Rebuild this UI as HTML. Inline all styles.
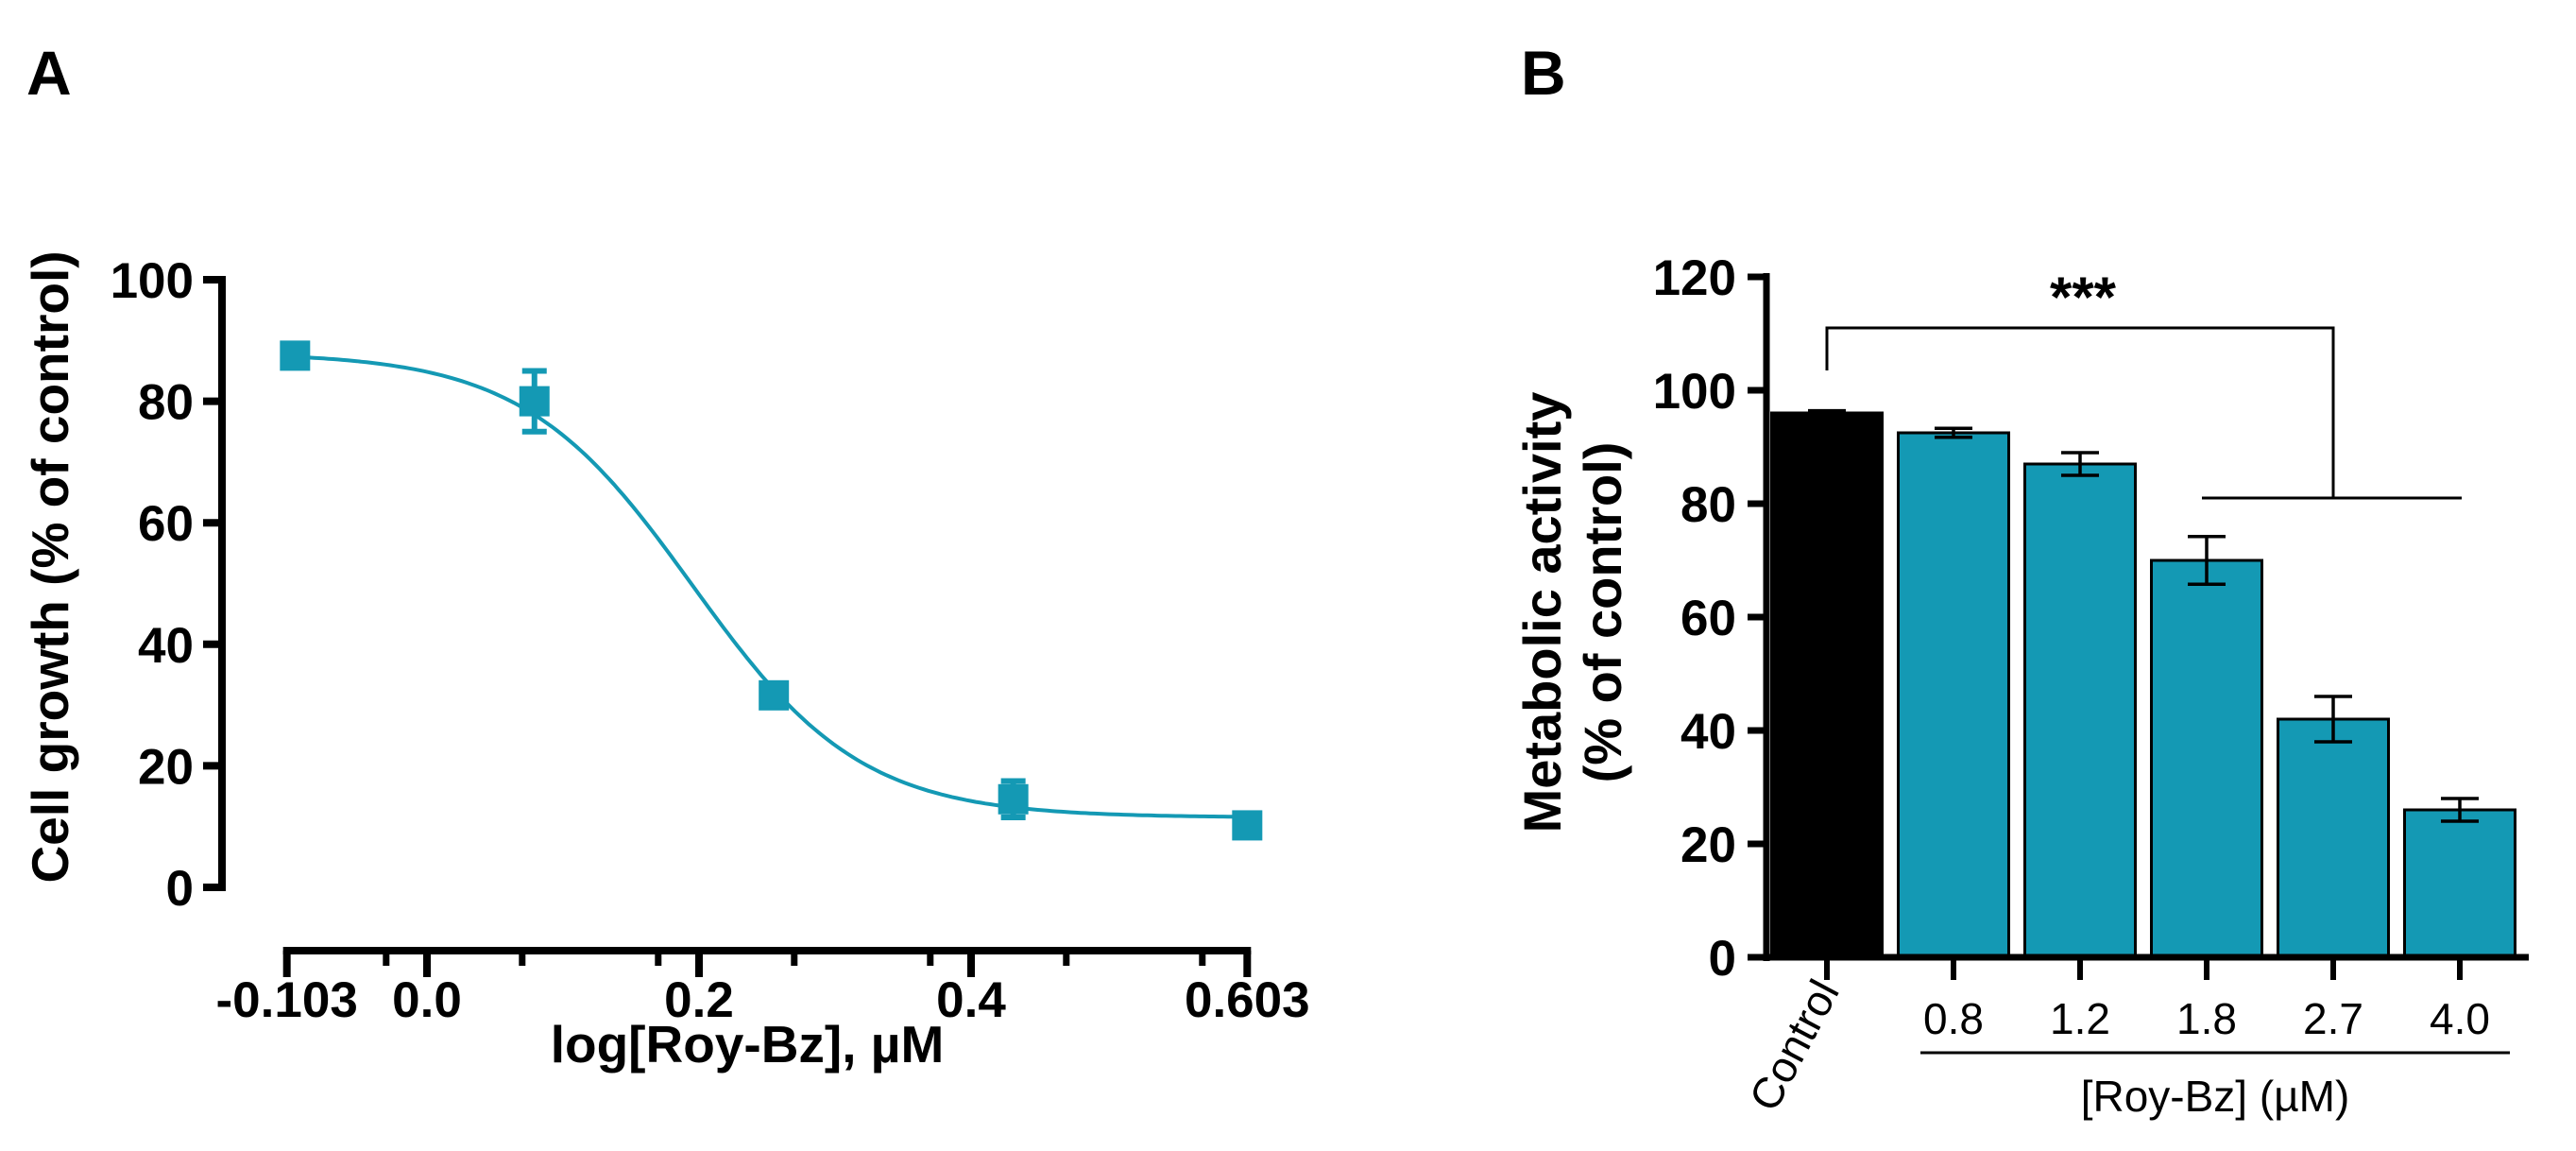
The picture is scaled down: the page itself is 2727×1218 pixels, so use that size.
<!DOCTYPE html>
<html><head><meta charset="utf-8"><style>
html,body{margin:0;padding:0;background:#fff;}
svg{display:block;font-family:"Liberation Sans",Arial,sans-serif;}
</style></head><body>
<svg id="chart" width="2727" height="1218" viewBox="0 0 2727 1218">
<text x="28" y="100" font-size="66" font-weight="bold">A</text>
<text x="1610" y="100" font-size="66" font-weight="bold">B</text>
<g id="panelA"></g>
<g id="panelB"></g>
</svg>
<script>
// Panel A data
const aX = [-0.097, 0.079, 0.255, 0.431, 0.603];
const aY = [87.5, 80, 31.6, 14.5, 10.2];
const aErr = [0, 5, 0, 3, 0];
const aXTicks = [-0.103, 0.0, 0.2, 0.4, 0.603];
const aXTickLabels = ["-0.103", "0.0", "0.2", "0.4", "0.603"];
const aXMinor = [-0.03, 0.07, 0.17, 0.27, 0.37, 0.47, 0.57];
const aYTicks = [0, 20, 40, 60, 80, 100];
const aFitTop = 88, aFitBottom = 11.5, aFitLogIC50 = 0.195, aFitHill = 7;

// Panel B data
const bCats = ["Control", "0.8", "1.2", "1.8", "2.7", "4.0"];
const bVals = [96, 92.5, 87, 70, 42, 26];
const bErr = [0.4, 0.8, 2, 4.2, 4, 2];
const bYTicks = [0, 20, 40, 60, 80, 100, 120];

const NS = "http://www.w3.org/2000/svg";
function mk(parent, tag, attrs, text){
  const e = document.createElementNS(NS, tag);
  for (const k in attrs) e.setAttribute(k, attrs[k]);
  if (text !== undefined) e.textContent = text;
  parent.appendChild(e);
  return e;
}
const TEAL = "#1499b4";

// ---- Panel A ----
const gA = document.getElementById("panelA");
const ax = v => 452 + v * 1440;
const ay = v => 939 - v * 6.43;
let e = mk(gA, "line", {x1:235, y1:ay(100)-4, x2:235, y2:ay(0)+4, stroke:"#000","stroke-width":8});


aYTicks.forEach(t => {
  let l = mk(gA, "line", {x1:215, y1:ay(t), x2:235, y2:ay(t), stroke:"#000","stroke-width":8});
  
  
  let tx = mk(gA, "text", {x:205, y:ay(t)+19, "font-size":53, "font-weight":"bold", "text-anchor":"end"}, String(t));
  
  
});
e = mk(gA, "line", {x1:ax(-0.103)-4, y1:1006, x2:ax(0.603)+4, y2:1006, stroke:"#000","stroke-width":8});


aXTicks.forEach((t,i) => {
  let l = mk(gA, "line", {x1:ax(t), y1:1006, x2:ax(t), y2:1034, stroke:"#000","stroke-width":8});
  
  
  let tx = mk(gA, "text", {x:ax(t), y:1076, "font-size":53, "font-weight":"bold", "text-anchor":"middle"}, aXTickLabels[i]);
  
  
});
aXMinor.forEach(t => {
  let l = mk(gA, "line", {x1:ax(t), y1:1006, x2:ax(t), y2:1022, stroke:"#000","stroke-width":7});
  
  
});
e = mk(gA, "text", {x:791, y:1124, "font-size":55, "font-weight":"bold", "text-anchor":"middle"}, "log[Roy-Bz], \u00b5M");


e = mk(gA, "text", {x:0, y:0, "font-size":55, "font-weight":"bold", "text-anchor":"middle", transform:"translate(72,600) rotate(-90)"}, "Cell growth (% of control)");


let d = "";
for (let i = 0; i <= 200; i++) {
  const xv = aX[0] + (aX[aX.length-1] - aX[0]) * i / 200;
  const yv = aFitBottom + (aFitTop - aFitBottom) / (1 + Math.pow(10, (xv - aFitLogIC50) * aFitHill));
  d += (i ? "L" : "M") + ax(xv).toFixed(1) + "," + ay(yv).toFixed(1);
}
e = mk(gA, "path", {d:d, fill:"none", stroke:TEAL, "stroke-width":4});


aX.forEach((xv,i) => {
  if (aErr[i] > 0) {
    const cx = ax(xv);
    let p = mk(gA, "path", {d:`M${cx},${ay(aY[i]+aErr[i])}V${ay(aY[i]-aErr[i])}M${cx-13},${ay(aY[i]+aErr[i])}H${cx+13}M${cx-13},${ay(aY[i]-aErr[i])}H${cx+13}`, stroke:TEAL, "stroke-width":6, fill:"none"});
    
    
  }
  let r = mk(gA, "rect", {x:ax(xv)-16, y:ay(aY[i])-16, width:32, height:32, fill:TEAL});
  
  
});

// ---- Panel B ----
const gB = document.getElementById("panelB");
const bx = i => 1934 + i * 134;
const by = v => 1013 - v * 6.0;
const bw = 117;
bCats.forEach((c,i) => {
  let r = mk(gB, "rect", {x:bx(i)-bw/2, y:by(bVals[i]), width:bw, height:by(0)-by(bVals[i]), fill:i===0?"#000":TEAL, stroke:"#000","stroke-width":3});
  
  
  const cx = bx(i);
  let p = mk(gB, "path", {d:`M${cx},${by(bVals[i]+bErr[i])}V${by(bVals[i]-bErr[i])}M${cx-20},${by(bVals[i]+bErr[i])}H${cx+20}M${cx-20},${by(bVals[i]-bErr[i])}H${cx+20}`, stroke:"#000", "stroke-width":3.5, fill:"none"});
  
  
  let t = mk(gB, "line", {x1:cx, y1:by(0), x2:cx, y2:by(0)+24, stroke:"#000","stroke-width":6});
  
  
  if (i > 0) {
    let tx = mk(gB, "text", {x:cx, y:1094, "font-size":46, "text-anchor":"middle"}, c);
    
    
  } else {
    let tx = mk(gB, "text", {x:0, y:0, "font-size":46, "text-anchor":"end", transform:`translate(${cx+14},1048) rotate(-62)`}, c);
    
    
  }
});
e = mk(gB, "line", {x1:1870, y1:by(120)-4, x2:1870, y2:by(0)+4, stroke:"#000","stroke-width":7});


e = mk(gB, "line", {x1:1870, y1:by(0), x2:2677, y2:by(0), stroke:"#000","stroke-width":7});


bYTicks.forEach(t => {
  let l = mk(gB, "line", {x1:1850, y1:by(t), x2:1870, y2:by(t), stroke:"#000","stroke-width":7});
  
  
  let tx = mk(gB, "text", {x:1838, y:by(t)+19, "font-size":53, "font-weight":"bold", "text-anchor":"end"}, String(t));
  
  
});
e = mk(gB, "text", {x:0, y:0, "font-size":56, "font-weight":"bold", "text-anchor":"middle", transform:"translate(1652,648) rotate(-90)"}, "Metabolic activity");


e = mk(gB, "text", {x:0, y:0, "font-size":56, "font-weight":"bold", "text-anchor":"middle", transform:"translate(1716,648) rotate(-90)"}, "(% of control)");


e = mk(gB, "line", {x1:2033, y1:1114, x2:2657, y2:1114, stroke:"#000","stroke-width":3});


e = mk(gB, "text", {x:2345, y:1176, "font-size":46, "text-anchor":"middle"}, "[Roy-Bz] (\u00b5M)");


e = mk(gB, "path", {d:`M${bx(0)},${by(103.5)}V${by(111)}H2470V${by(81)}M2331,${by(81)}H2606`, stroke:"#000","stroke-width":3, fill:"none"});


e = mk(gB, "text", {x:2205, y:335, "font-size":60, "font-weight":"bold", "text-anchor":"middle"}, "***");


</script>
</body></html>
